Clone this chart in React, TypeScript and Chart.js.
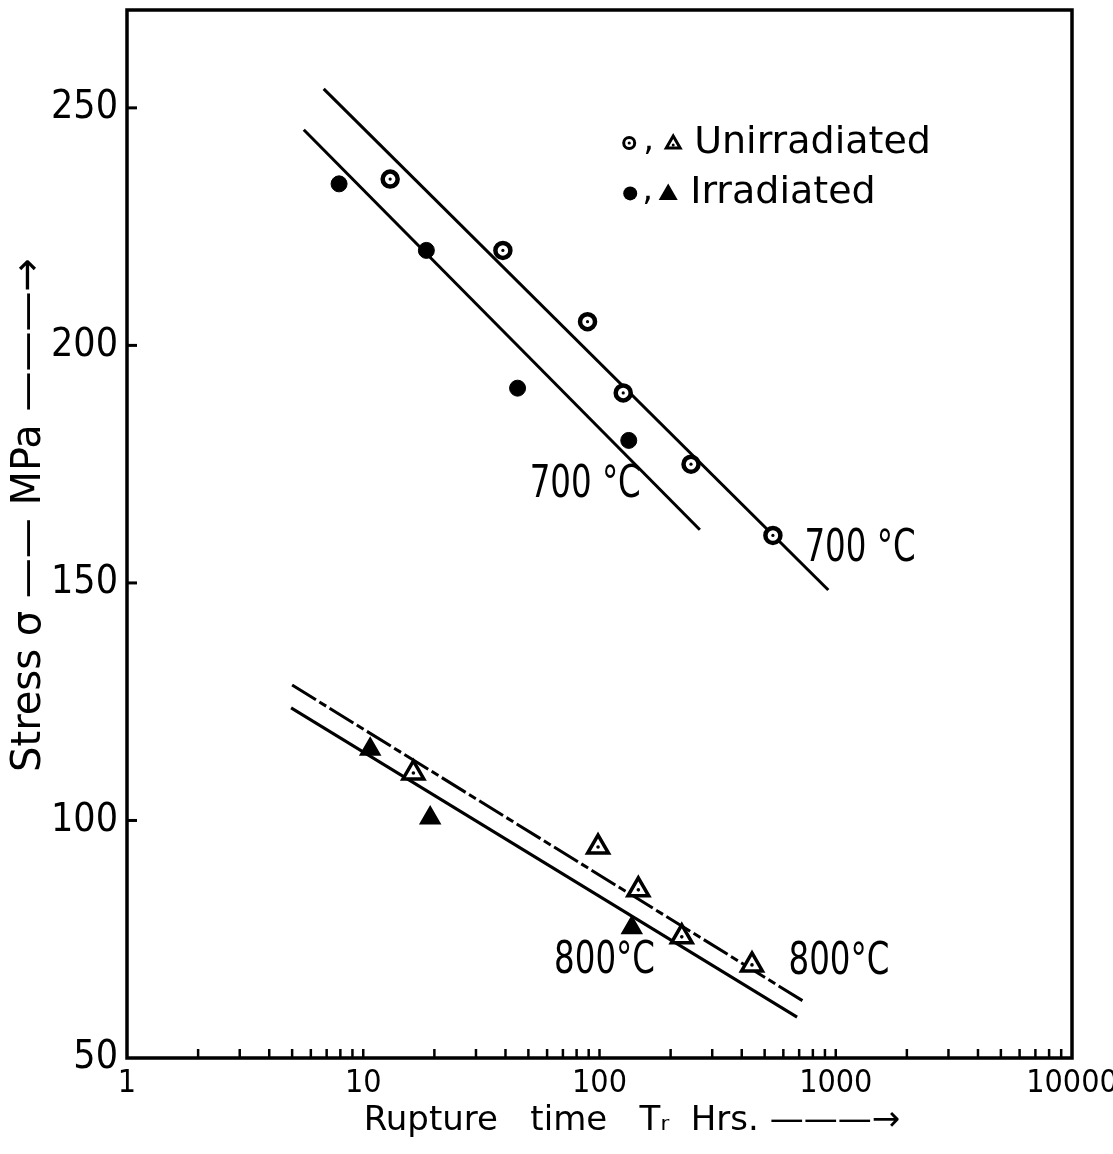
import React, { useEffect, useRef } from "react";
import { Chart, registerables } from "chart.js";

Chart.register(...registerables);

// ---------- data ----------
// 700 °C, unirradiated (open circle with dot)
const unirr700Time = [13, 39, 89, 126, 244, 542];
const unirr700Stress = [235, 220, 205, 190, 175, 160];
// 700 °C, irradiated (filled circle)
const irr700Time = [7.9, 18.5, 45, 133];
const irr700Stress = [234, 220, 191, 180];
// 800 °C, unirradiated (open triangle with dot)
const unirr800Time = [16.3, 98.6, 146, 223, 442];
const unirr800Stress = [110, 94.4, 85.4, 75.5, 69.6];
// 800 °C, irradiated (filled triangle)
const irr800Time = [10.7, 19.2, 137];
const irr800Stress = [115, 100.5, 77.4];

// fitted lines (end points)
const fitUnirr700Time = [6.8, 930];
const fitUnirr700Stress = [254, 148.5];
const fitIrr700Time = [5.6, 266];
const fitIrr700Stress = [245.4, 161.2];
const fitUnirr800Time = [5.0, 727];
const fitUnirr800Stress = [128.5, 62];
const fitIrr800Time = [4.95, 686];
const fitIrr800Stress = [123.7, 58.6];

// axes
const xTickValues = [
  1, 2, 3, 4, 5, 6, 7, 8, 9,
  10, 20, 30, 40, 50, 60, 70, 80, 90,
  100, 200, 300, 400, 500, 600, 700, 800, 900,
  1000, 2000, 3000, 4000, 5000, 6000, 7000, 8000, 9000,
  10000,
];
const xTickLabels = [1, 10, 100, 1000, 10000];
const yTickValues = [50, 100, 150, 200, 250];
const yMin = 50;
const yMax = 270.6;

// text annotations (placed in data space)
const tempLabels = ["700 °C", "700 °C", "800°C", "800°C"];
const tempLabelTime = [87, 1267, 105, 1032];
const tempLabelStress = [170.6, 157, 70.2, 70];

const legendLabels = ["Unirradiated", "Irradiated"];
const legendTime = 120;
const legendStress = [242.6, 232.0];

const xTitle = "      Rupture   time   Tᵣ  Hrs. ———→";
const yTitle = "   Stress σ —— MPa ———→";

const NARROW = '"DejaVu Sans Condensed", "Liberation Sans", sans-serif';
const WIDE = '"DejaVu Sans", "Liberation Sans", sans-serif';

const zip = (xs: number[], ys: number[]) => xs.map((x, i) => ({ x, y: ys[i] }));

function drawTri(ctx: CanvasRenderingContext2D, x: number, y: number, r: number) {
  ctx.beginPath();
  for (let i = 0; i < 3; i++) {
    const a = (i * 2 * Math.PI) / 3;
    const px = x + Math.sin(a) * r;
    const py = y - Math.cos(a) * r;
    if (i === 0) ctx.moveTo(px, py);
    else ctx.lineTo(px, py);
  }
  ctx.closePath();
}

const decor = {
  id: "decor",
  afterDraw(chart: any) {
    const { ctx, chartArea: a, scales } = chart;
    const xs = scales.x;
    const ys = scales.y;
    ctx.save();
    ctx.strokeStyle = "#000";
    ctx.fillStyle = "#000";
    // frame
    ctx.lineWidth = 3.5;
    ctx.strokeRect(a.left, a.top, a.right - a.left, a.bottom - a.top);
    // y ticks (inward)
    ctx.lineWidth = 3;
    ys.ticks.forEach((t: any) => {
      if (t.value <= ys.min) return;
      const y = ys.getPixelForValue(t.value);
      ctx.beginPath();
      ctx.moveTo(a.left, y);
      ctx.lineTo(a.left + 10, y);
      ctx.stroke();
    });
    // x ticks (inward)
    ctx.lineWidth = 2.5;
    xs.ticks.forEach((t: any) => {
      if (t.value <= xs.min || t.value >= xs.max) return;
      const x = xs.getPixelForValue(t.value);
      ctx.beginPath();
      ctx.moveTo(x, a.bottom);
      ctx.lineTo(x, a.bottom - 9);
      ctx.stroke();
    });
    // temperature labels (condensed horizontally)
    ctx.font = `44px ${NARROW}`;
    ctx.textAlign = "center";
    ctx.textBaseline = "middle";
    tempLabels.forEach((s, i) => {
      const px = xs.getPixelForValue(tempLabelTime[i]);
      const py = ys.getPixelForValue(tempLabelStress[i]);
      ctx.save();
      ctx.translate(px, py);
      ctx.scale(0.82, 1);
      ctx.fillText(s, 0, 0);
      ctx.restore();
    });
    // legend
    const lx = xs.getPixelForValue(legendTime);
    const ly0 = ys.getPixelForValue(legendStress[0]);
    const ly1 = ys.getPixelForValue(legendStress[1]);
    ctx.textAlign = "left";
    // row 1: open circle with dot, open triangle with dot
    ctx.lineWidth = 3;
    ctx.beginPath();
    ctx.arc(lx + 11, ly0, 5.5, 0, Math.PI * 2);
    ctx.stroke();
    ctx.beginPath();
    ctx.arc(lx + 11, ly0, 1.6, 0, Math.PI * 2);
    ctx.fill();
    drawTri(ctx, lx + 55, ly0 + 1, 8);
    ctx.stroke();
    ctx.beginPath();
    ctx.arc(lx + 55, ly0 + 2, 1.5, 0, Math.PI * 2);
    ctx.fill();
    ctx.font = `34px ${WIDE}`;
    ctx.fillText(",", lx + 25, ly0 - 2);
    ctx.font = `38px ${WIDE}`;
    ctx.fillText(legendLabels[0], lx + 76, ly0);
    // row 2: filled circle, filled triangle
    ctx.beginPath();
    ctx.arc(lx + 12, ly1, 7, 0, Math.PI * 2);
    ctx.fill();
    drawTri(ctx, lx + 50, ly1 + 1, 8);
    ctx.fill();
    ctx.stroke();
    ctx.font = `34px ${WIDE}`;
    ctx.fillText(",", lx + 24, ly1 - 2);
    ctx.font = `38px ${WIDE}`;
    ctx.fillText(legendLabels[1], lx + 72, ly1);
    ctx.restore();
  },
};

export default function App() {
  const ref = useRef<HTMLCanvasElement>(null);

  useEffect(() => {
    const canvas = ref.current;
    if (!canvas) return;
    Chart.defaults.color = "#000";

    const lineDs = (t: number[], s: number[], dash: number[] = []) => ({
      type: "line" as const,
      data: zip(t, s),
      showLine: true,
      borderColor: "#000",
      borderWidth: 3,
      borderDash: dash,
      pointRadius: 0,
      fill: false,
      order: 3,
    });

    const chart = new Chart(canvas, {
      type: "scatter",
      data: {
        datasets: [
          lineDs(fitUnirr700Time, fitUnirr700Stress),
          lineDs(fitIrr700Time, fitIrr700Stress),
          lineDs(fitUnirr800Time, fitUnirr800Stress, [28, 4, 8, 4]),
          lineDs(fitIrr800Time, fitIrr800Stress),
          {
            label: "Unirradiated 700",
            data: zip(unirr700Time, unirr700Stress),
            pointStyle: "circle",
            pointRadius: 7.5,
            pointBorderWidth: 4.5,
            pointBackgroundColor: "#fff",
            pointBorderColor: "#000",
            order: 2,
          },
          {
            label: "Irradiated 700",
            data: zip(irr700Time, irr700Stress),
            pointStyle: "circle",
            pointRadius: 8,
            pointBorderWidth: 1,
            pointBackgroundColor: "#000",
            pointBorderColor: "#000",
            order: 2,
          },
          {
            label: "Unirradiated 800",
            data: zip(unirr800Time, unirr800Stress),
            pointStyle: "triangle",
            pointRadius: 12,
            pointBorderWidth: 3.5,
            pointBackgroundColor: "#fff",
            pointBorderColor: "#000",
            order: 2,
          },
          {
            label: "Irradiated 800",
            data: zip(irr800Time, irr800Stress),
            pointStyle: "triangle",
            pointRadius: 10,
            pointBorderWidth: 3,
            pointBackgroundColor: "#000",
            pointBorderColor: "#000",
            order: 2,
          },
          {
            label: "dots 700",
            data: zip(unirr700Time, unirr700Stress),
            pointStyle: "circle",
            pointRadius: 1.6,
            pointBorderWidth: 0,
            pointBackgroundColor: "#000",
            order: 1,
          },
          {
            label: "dots 800",
            data: zip(unirr800Time, unirr800Stress),
            pointStyle: "circle",
            pointRadius: 1.8,
            pointBorderWidth: 0,
            pointBackgroundColor: "#000",
            order: 1,
          },
        ] as any,
      },
      options: {
        responsive: false,
        animation: false,
        events: [],
        layout: { autoPadding: false, padding: { left: 0, top: 10, right: 41, bottom: 0 } },
        plugins: {
          legend: { display: false },
          tooltip: { enabled: false },
        },
        scales: {
          x: {
            type: "logarithmic",
            min: 1,
            max: 10000,
            position: "bottom",
            grid: { display: false, drawTicks: false },
            border: { display: false },
            afterBuildTicks: (s: any) => {
              s.ticks = xTickValues.map((v) => ({ value: v }));
            },
            afterFit: (s: any) => {
              s.height = 96;
              s.paddingLeft = 0;
              s.paddingRight = 0;
            },
            ticks: {
              autoSkip: false,
              maxRotation: 0,
              minRotation: 0,
              padding: 6,
              color: "#000",
              font: { family: NARROW, size: 32 },
              callback: (v: any) => (xTickLabels.includes(Number(v)) ? String(v) : ""),
            },
            title: {
              display: true,
              text: xTitle,
              color: "#000",
              font: { family: WIDE, size: 34 },
              padding: { top: 0, bottom: 12 },
            },
          },
          y: {
            type: "linear",
            min: yMin,
            max: yMax,
            grid: { display: false, drawTicks: false },
            border: { display: false },
            afterBuildTicks: (s: any) => {
              s.ticks = yTickValues.map((v) => ({ value: v }));
            },
            afterFit: (s: any) => {
              s.width = 127;
              s.paddingTop = 0;
              s.paddingBottom = 0;
            },
            ticks: {
              padding: 9,
              color: "#000",
              font: { family: NARROW, size: 39 },
              callback: (v: any) => String(v),
            },
            title: {
              display: true,
              text: yTitle,
              color: "#000",
              font: { family: WIDE, size: 40 },
              padding: { top: 6, bottom: 0 },
            },
          },
        },
      },
      plugins: [decor],
    });

    return () => chart.destroy();
  }, []);

  return (
    <div style={{ position: "absolute", left: 0, top: 0, width: 1113, height: 1154, background: "#fff" }}>
      <canvas ref={ref} width={1113} height={1154} />
    </div>
  );
}
